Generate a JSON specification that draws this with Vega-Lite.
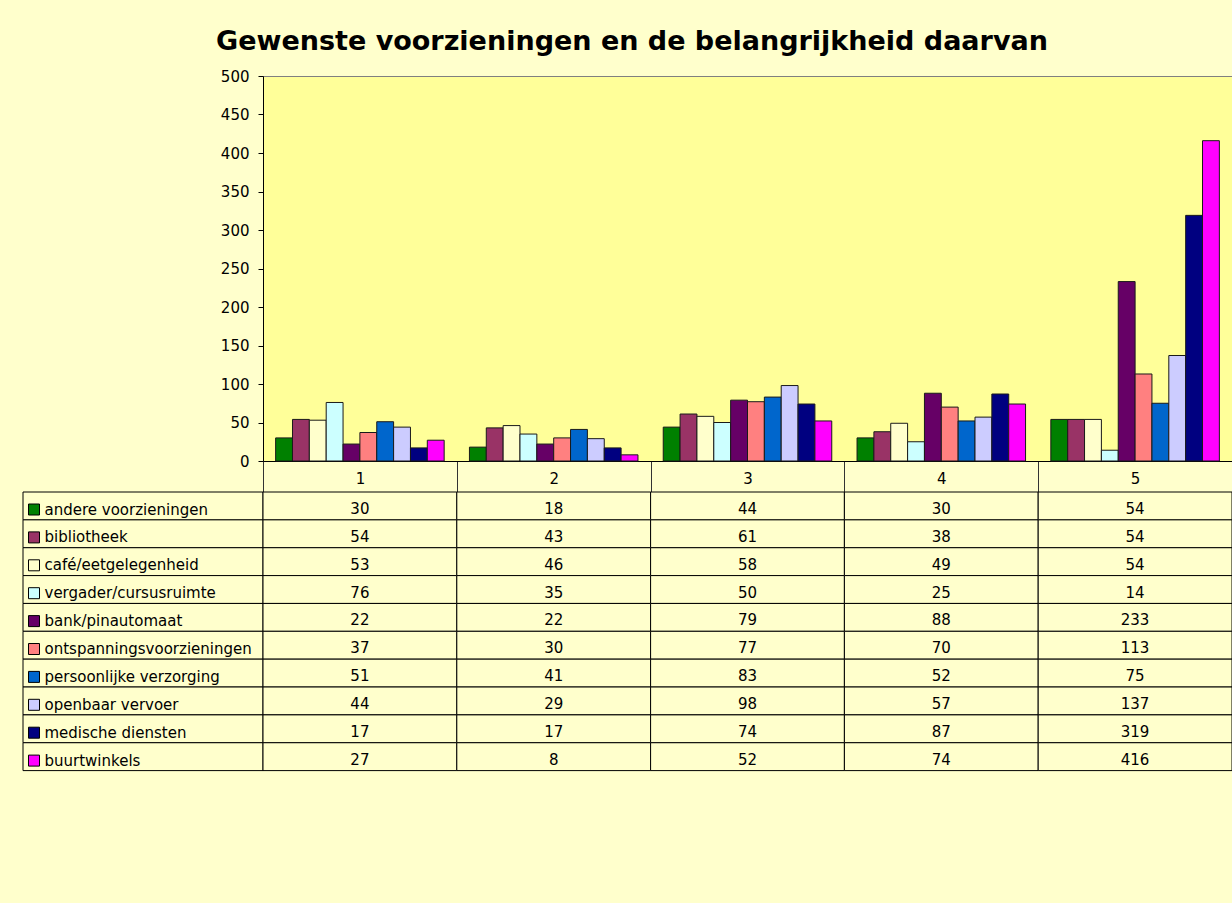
{
  "$schema": "https://vega.github.io/schema/vega-lite/v6.json",
  "background": "#FFFFCC",
  "padding": {"left": 22, "top": 27, "right": 0, "bottom": 132},
  "title": {
    "text": "Gewenste voorzieningen en de belangrijkheid daarvan",
    "font": "DejaVu Sans",
    "fontSize": 27,
    "fontWeight": "bold",
    "color": "#000000",
    "anchor": "start",
    "frame": "group",
    "dx": 193,
    "baseline": "alphabetic",
    "offset": -8
  },
  "data": {
    "values": [
      {"category": "1", "series": "andere voorzieningen", "value": 30},
      {"category": "1", "series": "bibliotheek", "value": 54},
      {"category": "1", "series": "café/eetgelegenheid", "value": 53},
      {"category": "1", "series": "vergader/cursusruimte", "value": 76},
      {"category": "1", "series": "bank/pinautomaat", "value": 22},
      {"category": "1", "series": "ontspanningsvoorzieningen", "value": 37},
      {"category": "1", "series": "persoonlijke verzorging", "value": 51},
      {"category": "1", "series": "openbaar vervoer", "value": 44},
      {"category": "1", "series": "medische diensten", "value": 17},
      {"category": "1", "series": "buurtwinkels", "value": 27},
      {"category": "2", "series": "andere voorzieningen", "value": 18},
      {"category": "2", "series": "bibliotheek", "value": 43},
      {"category": "2", "series": "café/eetgelegenheid", "value": 46},
      {"category": "2", "series": "vergader/cursusruimte", "value": 35},
      {"category": "2", "series": "bank/pinautomaat", "value": 22},
      {"category": "2", "series": "ontspanningsvoorzieningen", "value": 30},
      {"category": "2", "series": "persoonlijke verzorging", "value": 41},
      {"category": "2", "series": "openbaar vervoer", "value": 29},
      {"category": "2", "series": "medische diensten", "value": 17},
      {"category": "2", "series": "buurtwinkels", "value": 8},
      {"category": "3", "series": "andere voorzieningen", "value": 44},
      {"category": "3", "series": "bibliotheek", "value": 61},
      {"category": "3", "series": "café/eetgelegenheid", "value": 58},
      {"category": "3", "series": "vergader/cursusruimte", "value": 50},
      {"category": "3", "series": "bank/pinautomaat", "value": 79},
      {"category": "3", "series": "ontspanningsvoorzieningen", "value": 77},
      {"category": "3", "series": "persoonlijke verzorging", "value": 83},
      {"category": "3", "series": "openbaar vervoer", "value": 98},
      {"category": "3", "series": "medische diensten", "value": 74},
      {"category": "3", "series": "buurtwinkels", "value": 52},
      {"category": "4", "series": "andere voorzieningen", "value": 30},
      {"category": "4", "series": "bibliotheek", "value": 38},
      {"category": "4", "series": "café/eetgelegenheid", "value": 49},
      {"category": "4", "series": "vergader/cursusruimte", "value": 25},
      {"category": "4", "series": "bank/pinautomaat", "value": 88},
      {"category": "4", "series": "ontspanningsvoorzieningen", "value": 70},
      {"category": "4", "series": "persoonlijke verzorging", "value": 52},
      {"category": "4", "series": "openbaar vervoer", "value": 57},
      {"category": "4", "series": "medische diensten", "value": 87},
      {"category": "4", "series": "buurtwinkels", "value": 74},
      {"category": "5", "series": "andere voorzieningen", "value": 54},
      {"category": "5", "series": "bibliotheek", "value": 54},
      {"category": "5", "series": "café/eetgelegenheid", "value": 54},
      {"category": "5", "series": "vergader/cursusruimte", "value": 14},
      {"category": "5", "series": "bank/pinautomaat", "value": 233},
      {"category": "5", "series": "ontspanningsvoorzieningen", "value": 113},
      {"category": "5", "series": "persoonlijke verzorging", "value": 75},
      {"category": "5", "series": "openbaar vervoer", "value": 137},
      {"category": "5", "series": "medische diensten", "value": 319},
      {"category": "5", "series": "buurtwinkels", "value": 416}
    ]
  },
  "columns": 2,
  "spacing": {"row": 31, "column": 0},
  "bounds": "flush",
  "concat": [
    {
      "width": 240,
      "height": 385,
      "data": {"values": []},
      "mark": {"type": "point", "opacity": 0},
      "encoding": {}
    },
    {
      "width": 969,
      "height": 385,
      "view": {"fill": "#FFFF99", "stroke": "#808080", "strokeWidth": 1},
      "mark": {"type": "bar", "stroke": "#1a1a1a", "strokeWidth": 1},
      "encoding": {
        "x": {
          "field": "category",
          "type": "nominal",
          "scale": {"paddingInner": 0, "paddingOuter": 0},
          "axis": {
            "title": null,
            "labelAngle": 0,
            "tickBand": "extent",
            "tickSize": 31,
            "tickColor": "#333333",
            "domainColor": "#000000",
            "labelPadding": -21,
            "labelFontSize": 15,
            "labelColor": "#000000",
            "grid": false
          }
        },
        "xOffset": {
          "field": "series",
          "type": "nominal",
          "sort": ["andere voorzieningen", "bibliotheek", "café/eetgelegenheid", "vergader/cursusruimte", "bank/pinautomaat", "ontspanningsvoorzieningen", "persoonlijke verzorging", "openbaar vervoer", "medische diensten", "buurtwinkels"],
          "scale": {"paddingInner": 0, "paddingOuter": 0.75}
        },
        "y": {
          "field": "value",
          "type": "quantitative",
          "scale": {"domain": [0, 500], "nice": false},
          "axis": {
            "title": null,
            "values": [0, 50, 100, 150, 200, 250, 300, 350, 400, 450, 500],
            "grid": false,
            "tickSize": 5,
            "tickColor": "#000000",
            "domainColor": "#000000",
            "labelPadding": 9,
            "labelFontSize": 15,
            "labelColor": "#000000"
          }
        },
        "color": {
          "field": "series",
          "type": "nominal",
          "sort": ["andere voorzieningen", "bibliotheek", "café/eetgelegenheid", "vergader/cursusruimte", "bank/pinautomaat", "ontspanningsvoorzieningen", "persoonlijke verzorging", "openbaar vervoer", "medische diensten", "buurtwinkels"],
          "scale": {
            "domain": ["andere voorzieningen", "bibliotheek", "café/eetgelegenheid", "vergader/cursusruimte", "bank/pinautomaat", "ontspanningsvoorzieningen", "persoonlijke verzorging", "openbaar vervoer", "medische diensten", "buurtwinkels"],
            "range": ["#008000", "#993366", "#FFFFCC", "#CCFFFF", "#660066", "#FF8080", "#0066CC", "#CCCCFF", "#000080", "#FF00FF"]
          },
          "legend": {
            "orient": "none",
            "legendX": 3.5,
            "legendY": 426,
            "title": null,
            "padding": 0,
            "symbolType": "square",
            "symbolSize": 121,
            "symbolStrokeColor": "#000000",
            "symbolStrokeWidth": 1,
            "symbolOpacity": 1,
            "labelFontSize": 15,
            "labelFont": "DejaVu Sans",
            "labelColor": "#000000",
            "labelOffset": 3,
            "labelLimit": 300,
            "rowPadding": 11.9
          }
        }
      }
    },
    {
      "width": 240,
      "height": 278.6,
      "transform": [{"filter": "datum.category === '1'"}],
      "mark": {"type": "rect", "fill": "#FFFFCC", "stroke": "#000000", "strokeWidth": 1},
      "encoding": {
        "y": {
          "field": "series",
          "type": "nominal",
          "sort": ["andere voorzieningen", "bibliotheek", "café/eetgelegenheid", "vergader/cursusruimte", "bank/pinautomaat", "ontspanningsvoorzieningen", "persoonlijke verzorging", "openbaar vervoer", "medische diensten", "buurtwinkels"],
          "scale": {"paddingInner": 0, "paddingOuter": 0},
          "axis": null
        }
      }
    },
    {
      "width": 969,
      "height": 278.6,
      "encoding": {
        "x": {
          "field": "category",
          "type": "nominal",
          "scale": {"paddingInner": 0, "paddingOuter": 0},
          "axis": null
        },
        "y": {
          "field": "series",
          "type": "nominal",
          "sort": ["andere voorzieningen", "bibliotheek", "café/eetgelegenheid", "vergader/cursusruimte", "bank/pinautomaat", "ontspanningsvoorzieningen", "persoonlijke verzorging", "openbaar vervoer", "medische diensten", "buurtwinkels"],
          "scale": {"paddingInner": 0, "paddingOuter": 0},
          "axis": null
        }
      },
      "layer": [
        {"mark": {"type": "rect", "fill": "#FFFFCC", "stroke": "#000000", "strokeWidth": 1}},
        {
          "mark": {"type": "text", "font": "DejaVu Sans", "fontSize": 15, "color": "#000000", "dy": 3},
          "encoding": {"text": {"field": "value", "type": "quantitative"}}
        }
      ]
    }
  ],
  "config": {
    "font": "DejaVu Sans",
    "view": {"stroke": null},
    "axis": {"labelFont": "DejaVu Sans"}
  }
}
